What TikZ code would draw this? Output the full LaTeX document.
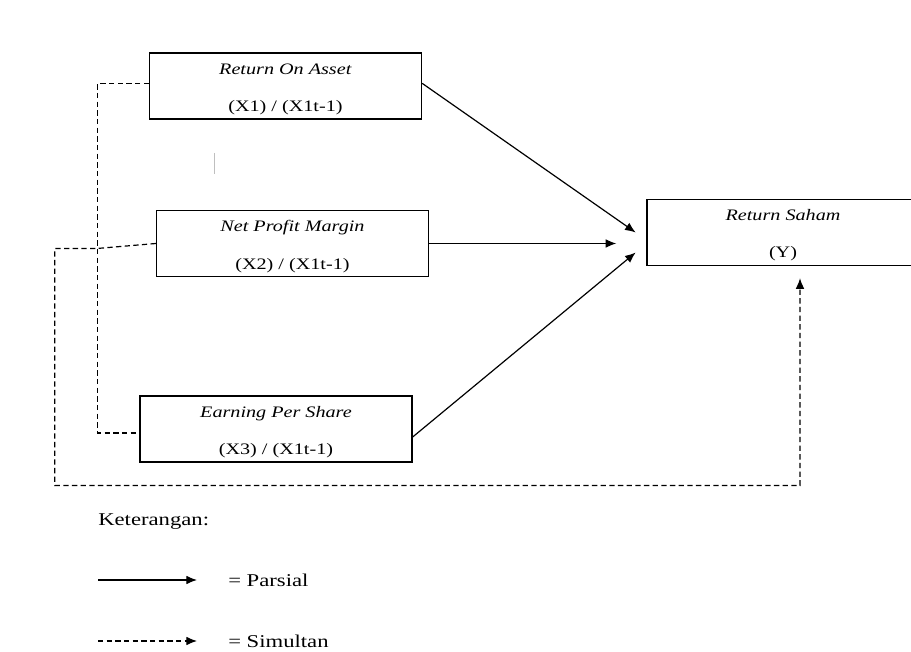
\documentclass[tikz,border=0pt]{standalone}
\usepackage{fontspec}
\setmainfont{Liberation Serif}[FakeStretch=1.26]
\usetikzlibrary{arrows.meta}

\begin{document}
\begin{tikzpicture}[x=0.75pt, y=-0.75pt, every node/.style={font=\fontsize{12}{14.4}\selectfont}]
\tikzset{varbox/.style={draw,line width=1pt,minimum width=204pt,minimum height=49.5pt,align=center,inner sep=0pt},
  parsial/.style={line width=0.9pt,-{Latex[length=8pt,width=6.5pt]}},
  simultan/.style={line width=0.9pt,dash pattern=on 4pt off 2.5pt},
  legendtext/.style={font=\fontsize{13.5}{16}\selectfont,anchor=west,inner sep=0pt}}
\useasboundingbox (0,0) rectangle (911,652);
\clip (0,0) rectangle (911,652);
\node[varbox] (roa) at (285.5,86) {\rule{0pt}{13pt}\textit{Return On Asset}\\[13.35pt] (X1) / (X1t-1)};
\node[varbox] (npm) at (292.5,243.5) {\rule{0pt}{13pt}\textit{Net Profit Margin}\\[14pt] (X2) / (X1t-1)};
\node[varbox] (eps) at (276,429) {\rule{0pt}{13pt}\textit{Earning Per Share}\\[13.35pt] (X3) / (X1t-1)};
\node[varbox] (ret) at (783,232.5) {\rule{0pt}{13pt}\textit{Return Saham}\\[13.35pt] (Y)};
\draw[gray!50,line width=0.6pt] (214,153) -- (214,174);
% parsial
\draw[parsial] ([yshift=2pt]roa.east) -- ([xshift=-8pt]ret.west);
\draw[parsial,shorten >=22.5pt] (npm.east) -- (npm.east -| ret.west);
\draw[parsial] ([yshift=-6pt]eps.east) -- ([xshift=-8pt,yshift=-15pt]ret.west);
% simultan
\draw[simultan] ([yshift=2pt]roa.west) -- ++(-51,0) |- ([yshift=-3pt]eps.west);
\draw[simultan,-{Latex[length=8pt,width=6.5pt]},shorten >=9pt] (npm.west) -- ++(-59,5) -- ++(-42,0) -- ++(0,237) -| ([xshift=12.75pt]ret.south);
% keterangan
\node[legendtext] (ket) at (98,522) {Keterangan:};
\coordinate (p1) at (98,580);
\coordinate (p2) at (197,580);
\draw[parsial] (p1) -- (p2);
\node[legendtext] (lp) at (228,580) {= Parsial};
\coordinate (s1) at (98,641);
\coordinate (s2) at (197,641);
\draw[simultan,-{Latex[length=8pt,width=6.5pt]}] (s1) -- (s2);
\node[legendtext] (ls) at (228,641) {= Simultan};
\end{tikzpicture}
\end{document}
